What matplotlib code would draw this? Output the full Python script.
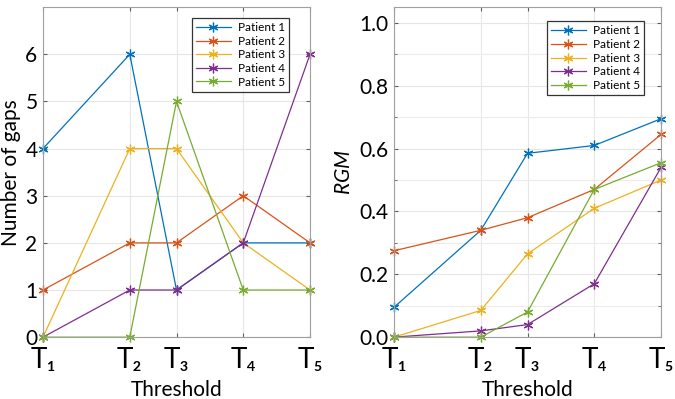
import numpy as np
import matplotlib
matplotlib.use("Agg")
import matplotlib.pyplot as plt

plt.rcParams['font.family'] = ['Lato', 'DejaVu Sans']
plt.rcParams['mathtext.fontset'] = 'custom'
plt.rcParams['mathtext.rm'] = 'Lato'
plt.rcParams['mathtext.it'] = 'Lato:italic'

# threshold positions and labels
thresholds = [0, 0.325, 0.5, 0.75, 1.0]
tick_labels = ['T\u2081', 'T\u2082', 'T\u2083', 'T\u2084', 'T\u2085']
patients = ['Patient 1', 'Patient 2', 'Patient 3', 'Patient 4', 'Patient 5']

gaps_p1 = [4, 6, 1, 2, 2]
gaps_p2 = [1, 2, 2, 3, 2]
gaps_p3 = [0, 4, 4, 2, 1]
gaps_p4 = [0, 1, 1, 2, 6]
gaps_p5 = [0, 0, 5, 1, 1]

rgm_p1 = [0.095, 0.34, 0.585, 0.61, 0.695]
rgm_p2 = [0.275, 0.34, 0.38, 0.47, 0.645]
rgm_p3 = [0.0, 0.085, 0.265, 0.41, 0.50]
rgm_p4 = [0.0, 0.02, 0.04, 0.17, 0.54]
rgm_p5 = [0.0, 0.0, 0.08, 0.47, 0.555]

colors = ['#0072BD', '#D95319', '#EDB120', '#7E2F8E', '#77AC30']
asterisk = (6, 2, 0)

fig = plt.figure(figsize=(6.75, 3.99), dpi=100)
ax1 = fig.add_axes([0.0637, 0.155, 0.3956, 0.827])
ax2 = fig.add_axes([0.5837, 0.155, 0.3956, 0.827])


def style(ax):
    for s in ax.spines.values():
        s.set_color('#a0a0a0')
        s.set_linewidth(0.8)
    ax.grid(True, which='major', color='#e6e6e6', linewidth=0.8)
    ax.set_axisbelow(True)
    ax.tick_params(direction='in', color='#606060', top=True, right=True,
                   labelsize=15, length=3, pad=4)
    ax.set_xticks(thresholds)
    ax.set_xticklabels(tick_labels, fontsize=20)
    ax.tick_params(axis='x', pad=7)
    ax.set_xlim(0, 1)
    ax.set_xlabel('Threshold', fontsize=15, labelpad=5)


def add_legend(ax, anchor):
    leg = ax.legend(loc='upper right', fontsize=8.5, frameon=True, fancybox=False,
                    edgecolor='black', bbox_to_anchor=anchor, handlelength=3.0,
                    labelspacing=0.22, borderpad=0.35, handletextpad=0.6)
    leg.get_frame().set_linewidth(0.9)


gaps = [gaps_p1, gaps_p2, gaps_p3, gaps_p4, gaps_p5]
for i in range(5):
    ax1.plot(thresholds, gaps[i], marker=asterisk, markersize=7, markeredgewidth=0.9,
             linewidth=0.9, color=colors[i], label=patients[i], clip_on=False)
style(ax1)
ax1.set_ylim(0, 7)
ax1.set_yticks(range(7))
ax1.set_ylabel('Number of gaps', fontsize=15, labelpad=3)
add_legend(ax1, (0.945, 0.985))

rgm = [rgm_p1, rgm_p2, rgm_p3, rgm_p4, rgm_p5]
for i in range(5):
    ax2.plot(thresholds, rgm[i], marker=asterisk, markersize=7, markeredgewidth=0.9,
             linewidth=0.9, color=colors[i], label=patients[i], clip_on=False)
style(ax2)
ax2.set_ylim(0, 1.05)
ax2.set_yticks(np.arange(0, 1.01, 0.2))
ax2.set_yticklabels(['%.1f' % v for v in np.arange(0, 1.01, 0.2)])
ax2.set_yticks(np.arange(0.1, 1.01, 0.2), minor=True)
ax2.grid(True, which='minor', axis='y', color='#ececec', linewidth=0.8)
ax2.tick_params(which='minor', direction='in', length=2, color='#606060', right=True)
ax2.set_ylabel('$RGM$', fontsize=15, labelpad=4)
add_legend(ax2, (0.96, 0.975))

fig.savefig('out.png', dpi=100)
